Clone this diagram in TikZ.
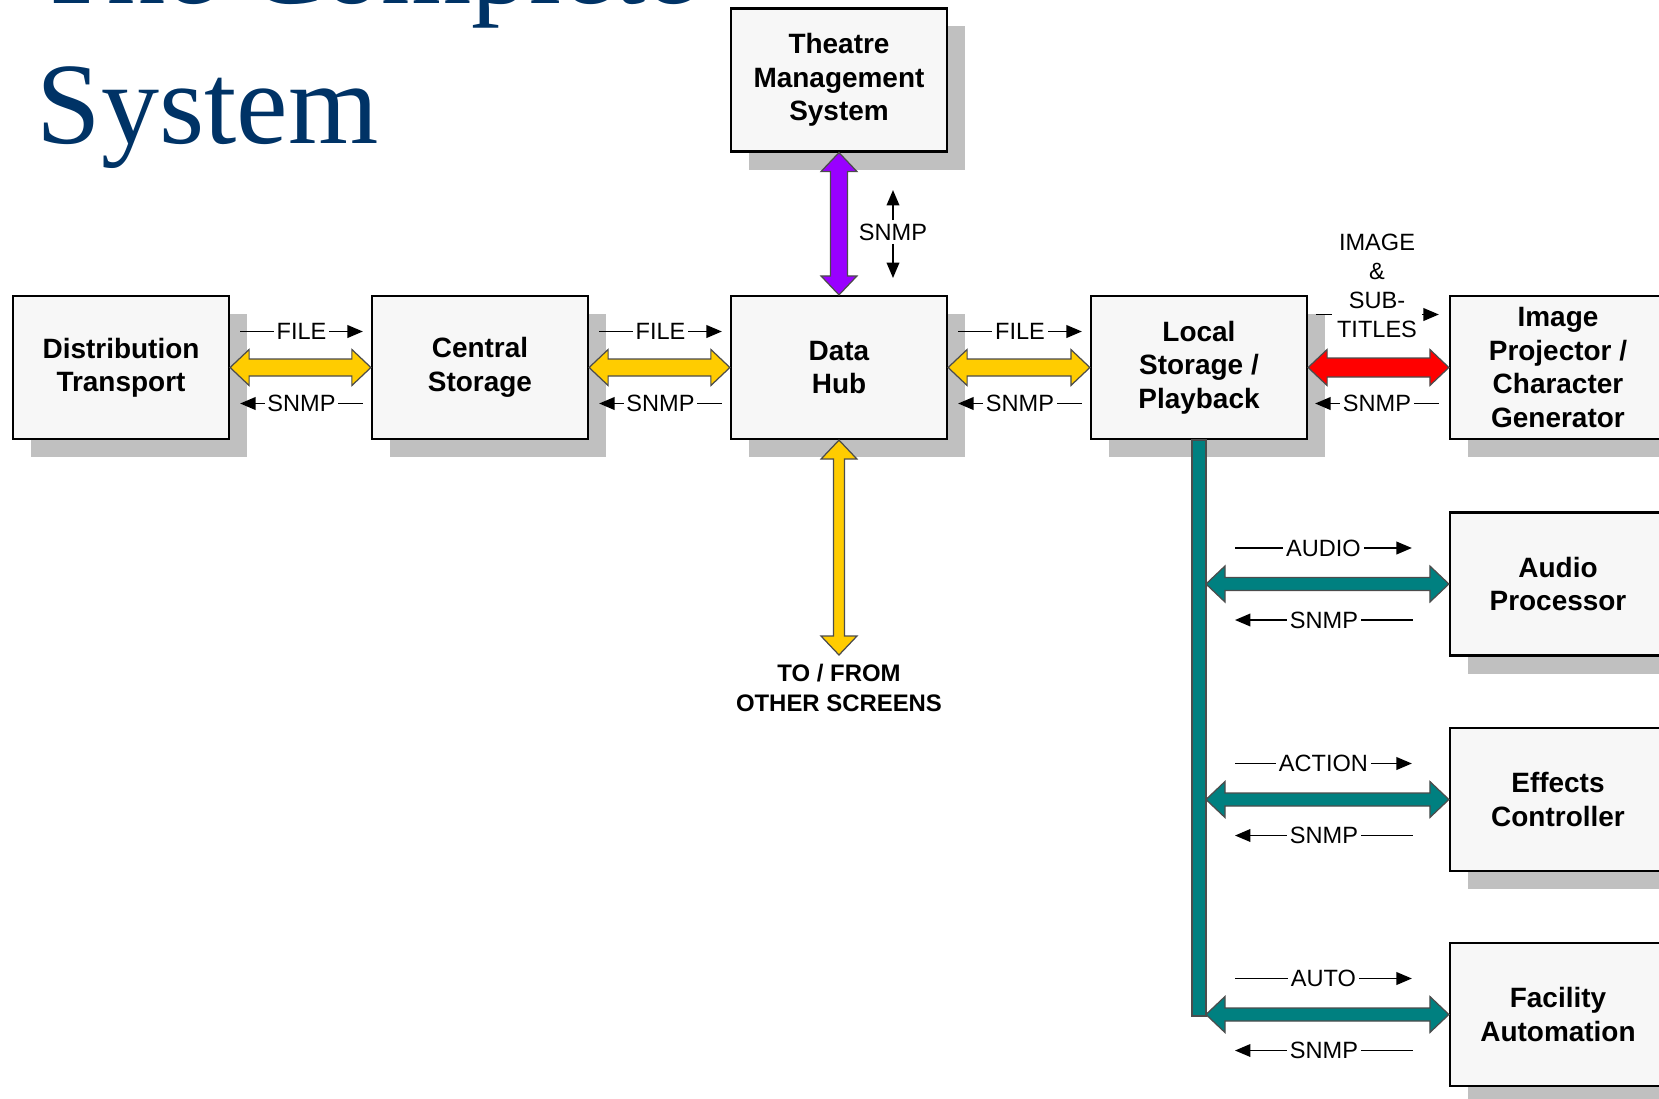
\documentclass[tikz,border=0pt]{standalone}
\usepackage{fontspec}
\setmainfont{Liberation Sans}
\newfontfamily\titlefont{Liberation Serif}
\usetikzlibrary{arrows.meta,calc,shadows}

\definecolor{navy}{RGB}{0,51,102}
\definecolor{boxfill}{RGB}{247,247,247}
\definecolor{shadowgray}{RGB}{192,192,192}
\definecolor{fileyellow}{RGB}{255,204,0}
\definecolor{tmspurple}{RGB}{153,0,255}
\definecolor{imgred}{RGB}{255,0,0}
\definecolor{busteal}{RGB}{0,128,128}

% fat double arrows: from, to, half shaft, style
\newcommand{\hblock}[4]{%
  \filldraw[#4] (#1) -- ($(#1)+(19,-18)$) -- ($(#1)+(19,-#3)$) -- ($(#2)+(-19,-#3)$)
    -- ($(#2)+(-19,-18)$) -- (#2) -- ($(#2)+(-19,18)$) -- ($(#2)+(-19,#3)$)
    -- ($(#1)+(19,#3)$) -- ($(#1)+(19,18)$) -- cycle;}
\newcommand{\vblock}[4]{%
  \filldraw[#4] (#1) -- ($(#1)+(18,19)$) -- ($(#1)+(#3,19)$) -- ($(#2)+(#3,-19)$)
    -- ($(#2)+(18,-19)$) -- (#2) -- ($(#2)+(-18,-19)$) -- ($(#2)+(-#3,-19)$)
    -- ($(#1)+(-#3,19)$) -- ($(#1)+(-18,19)$) -- cycle;}

\begin{document}
\begin{tikzpicture}[x=0.01cm, y=-0.01cm,
    unit/.style={draw, line width=0.6pt, fill=boxfill, minimum width=2.16cm,
      minimum height=1.43cm, align=center, font=\fontsize{7.95}{9.5}\selectfont\bfseries,
      drop shadow={shadow xshift=0.18cm, shadow yshift=-0.18cm, fill=shadowgray, opacity=1}},
    lbl/.style={fill=white, inner sep=0.8pt, align=center, font=\fontsize{6.7}{8.25}\selectfont},
    sig/.style={-{Triangle[length=4.4pt,width=3.6pt]}, line width=0.5pt},
    fatarrow/.style={draw=black!70, line width=0.35pt, line join=miter}]
  \useasboundingbox (0,0) rectangle (1659,1099);

  % Title
  \node[anchor=base west, inner sep=0, text=navy, font=\titlefont\fontsize{33}{40}\selectfont] (title1) at (36,3) {The Complete};
  \node[anchor=base west, inner sep=0, text=navy, font=\titlefont\fontsize{33}{40}\selectfont] (title2) at (36,143) {System};

  % Units
  \node[unit] (dist) at (121,367.5) {Distribution\\Transport};
  \node[unit] (central) at (480,367.5) {Central\\Storage};
  \node[unit] (hub) at (839,367.5) {Data\\Hub};
  \node[unit] (local) at (1199,367.5) {Local\\Storage /\\Playback};
  \node[unit] (image) at (1558,367.5) {Image\\Projector /\\Character\\Generator};
  \node[unit] (tms) at (839,80) {Theatre\\Management\\System};
  \node[unit] (audio) at (1558,584) {Audio\\Processor};
  \node[unit] (effects) at (1558,799.5) {Effects\\Controller};
  \node[unit] (facility) at (1558,1014.5) {Facility\\Automation};

  % File links
  \hblock{dist.east}{central.west}{8.5}{fatarrow, fill=fileyellow}
  \hblock{central.east}{hub.west}{8.5}{fatarrow, fill=fileyellow}
  \hblock{hub.east}{local.west}{8.5}{fatarrow, fill=fileyellow}
  \hblock{local.east}{image.west}{9.5}{fatarrow, fill=imgred}
  \vblock{tms.south}{hub.north}{8.5}{fatarrow, fill=tmspurple}

  % Other screens
  \coordinate (screens) at (839,655);
  \vblock{hub.south}{screens}{5.5}{fatarrow, fill=fileyellow}
  \node[font=\fontsize{6.8}{8.4}\selectfont\bfseries, align=center] (others) at (839,688) {TO / FROM\\OTHER SCREENS};

  % Labels on the file links
  \draw[sig] ($(dist.east)+(10,-36)$) -- ($(central.west)+(-8,-36)$) node[lbl,midway] {FILE};
  \draw[sig] ($(central.west)+(-8,36)$) -- ($(dist.east)+(10,36)$) node[lbl,midway] {SNMP};
  \draw[sig] ($(central.east)+(10,-36)$) -- ($(hub.west)+(-8,-36)$) node[lbl,midway] {FILE};
  \draw[sig] ($(hub.west)+(-8,36)$) -- ($(central.east)+(10,36)$) node[lbl,midway] {SNMP};
  \draw[sig] ($(hub.east)+(10,-36)$) -- ($(local.west)+(-8,-36)$) node[lbl,midway] {FILE};
  \draw[sig] ($(local.west)+(-8,36)$) -- ($(hub.east)+(10,36)$) node[lbl,midway] {SNMP};
  \draw[sig] ($(local.east)+(8,-53)$) -- ($(image.west)+(-10,-53)$);
  \node[lbl, inner xsep=1.5pt] (imgtxt) at (1377,286) {IMAGE\\\&\\SUB-\\TITLES};
  \draw[sig] ($(image.west)+(-10,36)$) -- ($(local.east)+(7,36)$) node[lbl,midway] {SNMP};

  % SNMP to the management system
  \node[lbl] (tmssnmp) at (893,232) {SNMP};
  \coordinate (snmpup) at (893,190);
  \coordinate (snmpdown) at (893,278);
  \draw[sig] (tmssnmp.north) -- (snmpup);
  \draw[sig] (tmssnmp.south) -- (snmpdown);

  % Bus from local storage
  \coordinate (busend) at (1199,1016);
  \coordinate (busedge) at (1206,1016);
  \filldraw[fatarrow, fill=busteal] ($(local.south)+(-7,0)$) rectangle (busedge);
  \coordinate (busA) at (busedge |- audio.west);
  \coordinate (busB) at (busedge |- effects.west);
  \coordinate (busC) at (busedge |- facility.west);
  \hblock{busA}{audio.west}{6.5}{fatarrow, fill=busteal}
  \hblock{busB}{effects.west}{6.5}{fatarrow, fill=busteal}
  \hblock{busC}{facility.west}{6.5}{fatarrow, fill=busteal}

  % Labels on the bus links
  \draw[sig] ($(busA)+(29,-36)$) -- ($(audio.west)+(-37,-36)$) node[lbl,midway] {AUDIO};
  \draw[sig] ($(audio.west)+(-36,36)$) -- ($(busA)+(29,36)$) node[lbl,midway] {SNMP};
  \draw[sig] ($(busB)+(29,-36)$) -- ($(effects.west)+(-37,-36)$) node[lbl,midway] {ACTION};
  \draw[sig] ($(effects.west)+(-36,36)$) -- ($(busB)+(29,36)$) node[lbl,midway] {SNMP};
  \draw[sig] ($(busC)+(29,-36)$) -- ($(facility.west)+(-37,-36)$) node[lbl,midway] {AUTO};
  \draw[sig] ($(facility.west)+(-36,36)$) -- ($(busC)+(29,36)$) node[lbl,midway] {SNMP};
\end{tikzpicture}
\end{document}
